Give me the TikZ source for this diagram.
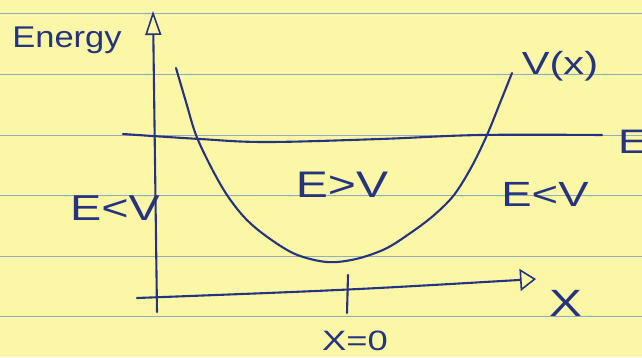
\documentclass[tikz,border=0pt]{standalone}
\usepackage{fontspec}
\usetikzlibrary{arrows.meta}
\newfontfamily\handfont[FakeStretch=1.3]{Liberation Sans}
\newfontfamily\handfontn[FakeStretch=1.15]{Liberation Sans}
\definecolor{paper}{RGB}{251,247,166}
\definecolor{rule}{RGB}{150,172,190}
\definecolor{ink}{RGB}{38,52,128}
\tikzset{
  ruleline/.style={draw=rule, line width=0.9pt},
  ink/.style={draw=ink, line width=2.1pt, line cap=round, line join=round},
  hand/.style={text=ink, inner sep=0pt},
}
\begin{document}
\begin{tikzpicture}[x=1pt,y=-1pt]
\useasboundingbox (0,0) rectangle (642,357);
\fill[paper] (0,0) rectangle (642,357);
% ruled paper lines
\foreach \yy in {13,74,135,195,256,316}
  \draw[ruleline] (0,\yy) -- (642,\yy);
% coordinates
\coordinate (yb) at (157,312);
\coordinate (yt) at (153,11);
\coordinate (xl) at (137,298);
\coordinate (xm) at (348,290);
\coordinate (xr) at (536,279);
\coordinate (tt) at (348,275);
\coordinate (tb) at (347,313);
% axes
\draw[ink, -{Triangle[open,length=24pt,width=16pt,line width=1.6pt]}] (yb) -- (yt);
\draw[ink, -{Triangle[open,length=16pt,width=22pt,line width=1.6pt]}] (xl) .. controls (xm) .. (xr);
\draw[ink] (tt) -- (tb);
% energy level E
\draw[ink] plot[smooth, tension=0.6] coordinates {(123,134) (200,139) (266,142) (380,139) (480,135) (602,135)};
% potential V(x)
\draw[ink] plot[smooth, tension=0.55] coordinates {(176,68) (186,102) (196,135) (211,167) (227,195) (245,218) (266,236) (295,254) (327,262) (356,259) (385,249) (409,234) (433,216) (454,195) (472,166) (487,135) (500,103) (512,73)};
% labels
\node[hand, font=\handfontn\fontsize{30}{30}\selectfont] (energy) at (67,40) {Energy};
\node[hand, font=\handfont\fontsize{32}{32}\selectfont] (vx) at (560,66) {V(x)};
\node[hand, font=\handfont\fontsize{34}{34}\selectfont, anchor=west] (E) at (618,142) {E};
\node[hand, font=\handfont\fontsize{37}{37}\selectfont] (egv) at (342,185) {E>V};
\node[hand, font=\handfont\fontsize{36}{36}\selectfont] (elvl) at (115,208) {E<V};
\node[hand, font=\handfont\fontsize{35}{35}\selectfont] (elvr) at (545,194) {E<V};
\node[hand, font=\handfont\fontsize{38}{38}\selectfont] (X) at (566,303) {X};
\node[hand, font=\handfont\fontsize{28}{28}\selectfont] (x0) at (355,341) {X=0};
\end{tikzpicture}
\end{document}
